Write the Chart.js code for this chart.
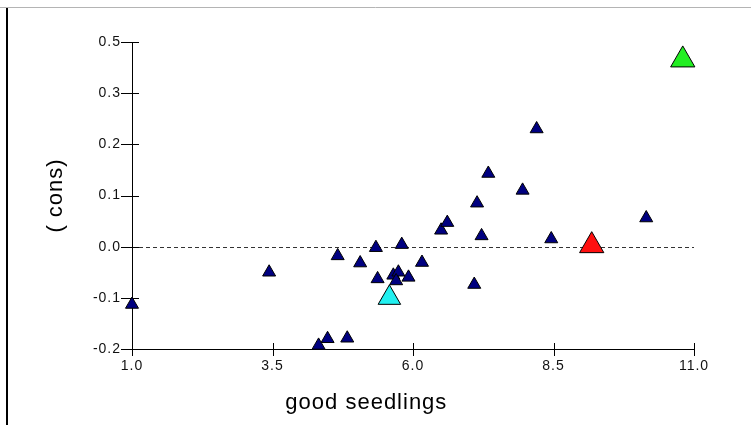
<!DOCTYPE html>
<html><head><meta charset="utf-8">
<script src="https://cdn.jsdelivr.net/npm/chart.js@4/dist/chart.umd.min.js"></script>
<style>html,body{margin:0;padding:0;background:#fff;overflow:hidden}</style>
</head><body>
<canvas id="c" width="751" height="425"></canvas>
<script>
// ---- data ----
const xTickValues = [1.0, 3.5, 6.0, 8.5, 11.0];
const xTickLabels = ["1.0", "3.5", "6.0", "8.5", "11.0"];
const yTickValues = [-0.2, -0.1, 0.0, 0.1, 0.2, 0.3, 0.4];
const yTickLabels = ["-0.2", "-0.1", "0.0", "0.1", "0.2", "0.3", "0.5"];
const xTitle = "good seedlings";
const yTitle = "( cons)";

const goodSeedlings = [1.00, 3.44, 4.66, 5.06, 5.34, 5.80, 5.37, 5.65, 5.74, 5.70, 5.92, 6.16, 7.09,
                       6.50, 6.61, 7.22, 7.14, 7.34, 4.32, 4.48, 4.83, 8.20, 7.95, 8.46, 10.15];
const cons = [-0.113, -0.050, -0.018, -0.032, -0.002, 0.004, -0.063, -0.056, -0.050, -0.067, -0.060, -0.031, -0.074,
              0.032, 0.047, 0.021, 0.085, 0.143, -0.193, -0.180, -0.179, 0.230, 0.110, 0.015, 0.056];

const greenX = [10.80], greenY = [0.365];
const redX = [9.18], redY = [0.002];
const cyanX = [5.58], cyanY = [-0.100];

const toPts = (xs, ys) => xs.map((x, i) => ({x: x, y: ys[i]}));

const FONT = "'Liberation Sans', Arial, sans-serif";

const decor = {
  id: 'decor',
  beforeDraw(chart) {
    const ctx = chart.ctx;
    ctx.save();
    ctx.fillStyle = '#fff';
    ctx.fillRect(0, 0, chart.width, chart.height);
    ctx.strokeStyle = '#b4b4b4'; ctx.lineWidth = 1;
    ctx.beginPath(); ctx.moveTo(0, 7.5); ctx.lineTo(chart.width, 7.5); ctx.stroke();
    ctx.strokeStyle = '#000'; ctx.lineWidth = 2;
    ctx.beginPath(); ctx.moveTo(7, 8); ctx.lineTo(7, chart.height); ctx.stroke();
    ctx.restore();
    ctx.letterSpacing = '1px';
  },
  beforeDatasetsDraw(chart) {
    const ctx = chart.ctx, xs = chart.scales.x, ys = chart.scales.y;
    ctx.save();
    ctx.letterSpacing = '0px';
    const y0 = Math.round(ys.getPixelForValue(0)) + 0.5;
    ctx.strokeStyle = '#333'; ctx.lineWidth = 1; ctx.setLineDash([4, 3]);
    ctx.beginPath(); ctx.moveTo(xs.left, y0); ctx.lineTo(xs.right, y0); ctx.stroke();
    ctx.setLineDash([]);
    ctx.strokeStyle = '#000';
    xs.ticks.forEach(t => {
      const px = Math.round(xs.getPixelForValue(t.value)) + 0.5;
      ctx.beginPath(); ctx.moveTo(px, xs.top - 6); ctx.lineTo(px, xs.top + 7); ctx.stroke();
    });
    ys.ticks.forEach(t => {
      const py = Math.round(ys.getPixelForValue(t.value)) + 0.5;
      ctx.beginPath(); ctx.moveTo(ys.right - 11, py); ctx.lineTo(ys.right + 7, py); ctx.stroke();
    });
    ctx.restore();
  },
  afterDraw(chart) {
    const ctx = chart.ctx, ca = chart.chartArea;
    ctx.save();
    ctx.fillStyle = '#000';
    ctx.font = '22px ' + FONT;
    ctx.letterSpacing = '1px';
    ctx.textAlign = 'center';
    ctx.textBaseline = 'alphabetic';
    ctx.fillText(xTitle, ca.left + (ca.right - ca.left) * 0.417, 409);
    ctx.translate(62, (ca.top + ca.bottom) / 2);
    ctx.rotate(-Math.PI / 2);
    ctx.fillText(yTitle, 0, 0);
    ctx.restore();
  }
};

const tri = (data, color, r) => ({
  data: data,
  pointStyle: 'triangle',
  pointRadius: r,
  pointHoverRadius: r,
  backgroundColor: color,
  borderColor: '#000',
  borderWidth: 1,
  showLine: false,
  clip: false
});

new Chart(document.getElementById('c'), {
  type: 'scatter',
  data: {
    datasets: [
      tri(toPts(goodSeedlings, cons), '#000080', 7.5),
      tri(toPts(greenX, greenY), '#22ee22', 14),
      tri(toPts(redX, redY), '#ff1010', 14),
      tri(toPts(cyanX, cyanY), '#22f0f0', 13)
    ]
  },
  options: {
    responsive: false,
    animation: false,
    devicePixelRatio: 1,
    layout: {padding: {top: 42, right: 57, left: 0, bottom: 0}},
    plugins: {legend: {display: false}, tooltip: {enabled: false}},
    scales: {
      x: {
        type: 'linear', min: 1, max: 11,
        afterBuildTicks: s => { s.ticks = xTickValues.map(v => ({value: v})); },
        afterFit: s => { s.height = 76; },
        ticks: {
          autoSkip: false, maxRotation: 0, padding: 9, color: '#111',
          font: {size: 14, family: FONT},
          callback: (v) => xTickLabels[xTickValues.findIndex(t => Math.abs(t - v) < 1e-9)]
        },
        grid: {display: false, drawTicks: false},
        border: {display: true, color: '#000', width: 1}
      },
      y: {
        type: 'linear', min: -0.2, max: 0.4,
        afterBuildTicks: s => { s.ticks = yTickValues.map(v => ({value: v})); },
        afterFit: s => { s.width = 132; },
        ticks: {
          autoSkip: false, padding: 11, color: '#111',
          font: {size: 14, family: FONT},
          callback: (v) => yTickLabels[yTickValues.findIndex(t => Math.abs(t - v) < 1e-9)]
        },
        grid: {display: false, drawTicks: false},
        border: {display: true, color: '#000', width: 1}
      }
    }
  },
  plugins: [decor]
});
</script>
</body></html>
